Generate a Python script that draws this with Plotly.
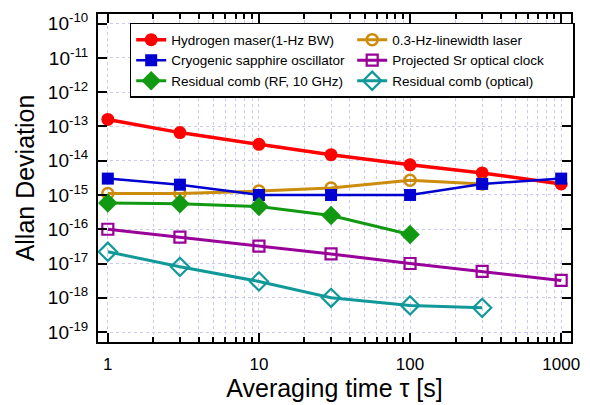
import plotly.graph_objects as go

maser_tau = [1, 3, 10, 30, 100, 300, 1000]
maser = [1.6e-13, 6.6e-14, 3.0e-14, 1.5e-14, 7.6e-15, 4.4e-15, 2.1e-15]

laser_tau = [1, 3, 10, 30, 100, 300]
laser = [1.1e-15, 1.1e-15, 1.3e-15, 1.6e-15, 2.7e-15, 2.1e-15]

sapphire_tau = [1, 3, 10, 30, 100, 300, 1000]
sapphire = [3.0e-15, 2.0e-15, 1.0e-15, 1.0e-15, 1.0e-15, 2.1e-15, 3.0e-15]

sr_tau = [1, 3, 10, 30, 100, 300, 1000]
sr = [1.0e-16, 5.9e-17, 3.2e-17, 1.9e-17, 1.0e-17, 5.9e-18, 3.2e-18]

comb_rf_tau = [1, 3, 10, 30, 100]
comb_rf = [5.8e-16, 5.5e-16, 4.6e-16, 2.5e-16, 7.0e-17]

comb_opt_tau = [1, 3, 10, 30, 100, 300]
comb_opt = [2.2e-17, 8.0e-18, 3.0e-18, 1.0e-18, 6.0e-19, 5.1e-19]

y_tickvals = [10.0 ** e for e in range(-19, -9)]
y_ticktext = ["10<sup>%d</sup>" % e for e in range(-19, -9)]
x_tickvals = [1, 10, 100, 1000]
x_ticktext = ["1", "10", "100", "1000"]
x_minorvals = [m * d for d in (1, 10, 100) for m in range(2, 10)]

fig = go.Figure()

def add(x, y, name, color, symbol, size, lw, mlw=0):
    fig.add_trace(go.Scatter(
        x=x, y=y, name=name, mode="lines+markers",
        line=dict(color=color, width=lw),
        marker=dict(symbol=symbol, size=size, color=color,
                    line=dict(color=color, width=mlw)),
    ))

# order arranged for two-column horizontal legend
add(maser_tau, maser, "Hydrogen maser(1-Hz BW)", "#ff0000", "circle", 13, 3.5)
add(laser_tau, laser, "0.3-Hz-linewidth laser", "#cc8c0c", "circle-open", 11, 3, 2.5)
add(sapphire_tau, sapphire, "Cryogenic sapphire oscillator", "#0000d0", "square", 12, 2.5)
add(sr_tau, sr, "Projected Sr optical clock", "#990099", "square-open", 11, 3, 2.2)
add(comb_rf_tau, comb_rf, "Residual comb (RF, 10 GHz)", "#119911", "diamond", 15, 3)
add(comb_opt_tau, comb_opt, "Residual comb (optical)", "#119999", "diamond-open", 14, 3, 2.2)

grid_color = "#c9c9f2"
fig.update_xaxes(
    type="log", range=[-0.065, 3.065],
    tickmode="array", tickvals=x_tickvals, ticktext=x_ticktext,
    ticks="inside", ticklen=9, tickwidth=1.5, tickcolor="black",
    showline=True, linecolor="black", linewidth=2, mirror="ticks",
    showgrid=True, gridcolor=grid_color, griddash="dot", gridwidth=1,
    minor=dict(tickmode="array", tickvals=x_minorvals,
               ticks="inside", ticklen=5, tickwidth=1.5, tickcolor="black",
               showgrid=True, gridcolor=grid_color, griddash="dot", gridwidth=1),
    tickfont=dict(size=17, color="black"),
    ticklabelstandoff=6,
    title=dict(text="Averaging time τ [s]", font=dict(size=25, color="black"), standoff=2),
    zeroline=False,
)
fig.update_yaxes(
    type="log", range=[-19.29, -9.72],
    tickmode="array", tickvals=y_tickvals, ticktext=y_ticktext,
    ticks="inside", ticklen=9, tickwidth=1.5, tickcolor="black",
    showline=True, linecolor="black", linewidth=2, mirror="ticks",
    showgrid=True, gridcolor=grid_color, griddash="dot", gridwidth=1,
    tickfont=dict(size=19, color="black"),
    ticklabelstandoff=4,
    title=dict(text="Allan Deviation", font=dict(size=25, color="black"), standoff=6),
    zeroline=False,
)

fig.update_layout(
    width=590, height=405,
    margin=dict(l=98, r=13, t=10, b=63),
    paper_bgcolor="white", plot_bgcolor="white",
    font=dict(family="Liberation Sans, Arial, sans-serif", color="black"),
    showlegend=True,
    legend=dict(
        orientation="h", x=0.067, y=0.973, xanchor="left", yanchor="top",
        bgcolor="white", bordercolor="black", borderwidth=1.5,
        font=dict(size=13.5, color="black"),
        entrywidth=176, entrywidthmode="pixels",
        itemwidth=30, tracegroupgap=0,
    ),
)

fig.write_html("out.html")
